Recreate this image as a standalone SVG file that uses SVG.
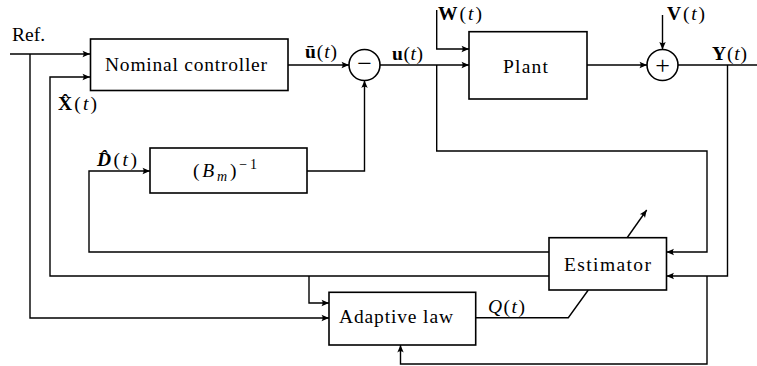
<svg xmlns="http://www.w3.org/2000/svg" width="757" height="366" viewBox="0 0 757 366">
<defs>
<marker id="arr" markerWidth="10" markerHeight="8" refX="8" refY="4" orient="auto" markerUnits="userSpaceOnUse">
<path d="M8,4 L0.5,0.8 Q2.8,4 0.5,7.2 Z" fill="#000"/>
</marker>
<style>
.ln{fill:none;stroke:#000;stroke-width:1.4;stroke-linejoin:miter}
.ar{marker-end:url(#arr)}
.bx{fill:#fff;stroke:#000;stroke-width:1.6}
.t{font-family:"Liberation Serif","Times New Roman",serif;font-size:19.5px;fill:#000}
.s{font-size:26px}
.b{font-weight:bold}
.i{font-style:italic}
</style>
</defs>
<rect width="757" height="366" fill="#fff"/>
<g id="connectors">
<path class="ln ar" d="M10,54 H90"/>
<path class="ln ar" d="M30,54 V318 H329"/>
<path class="ln ar" d="M549,276 H50 V77 H90"/>
<path class="ln ar" d="M309,276 V303 H329"/>
<path class="ln ar" d="M549,252 H89 V171 H150"/>
<path class="ln ar" d="M288,65 H349"/>
<path class="ln ar" d="M307,171 H364.5 V80.5"/>
<path class="ln ar" d="M380,65 H469"/>
<path class="ln ar" d="M436.7,65 V151 H707 V252 H666.5"/>
<path class="ln ar" d="M436.7,10 V49 H469"/>
<path class="ln ar" d="M587,65 H647"/>
<path class="ln ar" d="M662.5,15 V49.5"/>
<path class="ln" d="M678,65 H757"/>
<path class="ln ar" d="M727.5,65 V276 H666.5"/>
<path class="ln ar" d="M707,276 V364 H400.5 V345"/>
<path class="ln ar" d="M627.3,237.5 L646.7,210"/>
<path class="ln" d="M475.7,317.7 H568.3 L588.3,290"/>
</g>
<g id="labels">
<text class="t" x="12" y="41" textLength="33">Ref.</text>
<text class="t" x="305" y="58" textLength="32"><tspan class="b">ū</tspan>(<tspan class="i">t</tspan>)</text>
<text class="t" x="392" y="60" textLength="31"><tspan class="b">u</tspan>(<tspan class="i">t</tspan>)</text>
<text class="t" x="438" y="20" textLength="44"><tspan class="b">W</tspan>(<tspan class="i">t</tspan>)</text>
<text class="t" x="667" y="20" textLength="38"><tspan class="b">V</tspan>(<tspan class="i">t</tspan>)</text>
<text class="t" x="712" y="60" textLength="35"><tspan class="b">Y</tspan>(<tspan class="i">t</tspan>)</text>
<text class="t" x="58" y="110" textLength="39"><tspan class="b">X̂</tspan>(<tspan class="i">t</tspan>)</text>
<text class="t" x="97" y="166" textLength="40"><tspan class="b i">D̂</tspan>(<tspan class="i">t</tspan>)</text>
<text class="t" x="488" y="313" textLength="37"><tspan class="i">Q</tspan>(<tspan class="i">t</tspan>)</text>
</g>
<g id="nominal-controller">
<rect class="bx" x="90.5" y="39" width="197.5" height="51.5"/>
<text class="t" x="105" y="71" textLength="162">Nominal controller</text>
</g>
<g id="minus-junction">
<circle class="bx" cx="364.5" cy="65" r="15.5"/>
<text class="t s" x="364.5" y="72" text-anchor="middle">−</text>
</g>
<g id="bm-inverse">
<rect class="bx" x="150" y="148" width="157" height="45"/>
<text class="t" x="193" y="177" textLength="64">(<tspan class="i">B</tspan><tspan class="i" font-size="14" dy="4">m</tspan><tspan dy="-4">)</tspan><tspan font-size="14" dy="-8">−1</tspan></text>
</g>
<g id="plant">
<rect class="bx" x="469" y="31.7" width="118" height="67.3"/>
<text class="t" x="503" y="73" textLength="45">Plant</text>
</g>
<g id="plus-junction">
<circle class="bx" cx="662.5" cy="65" r="15.5"/>
<text class="t s" x="662.5" y="73.5" text-anchor="middle">+</text>
</g>
<g id="estimator">
<rect class="bx" x="549" y="237.7" width="117.5" height="52.3"/>
<text class="t" x="564" y="271" textLength="87">Estimator</text>
</g>
<g id="adaptive-law">
<rect class="bx" x="329" y="292.3" width="146.7" height="52.7"/>
<text class="t" x="339" y="323" textLength="114">Adaptive law</text>
</g>
</svg>
